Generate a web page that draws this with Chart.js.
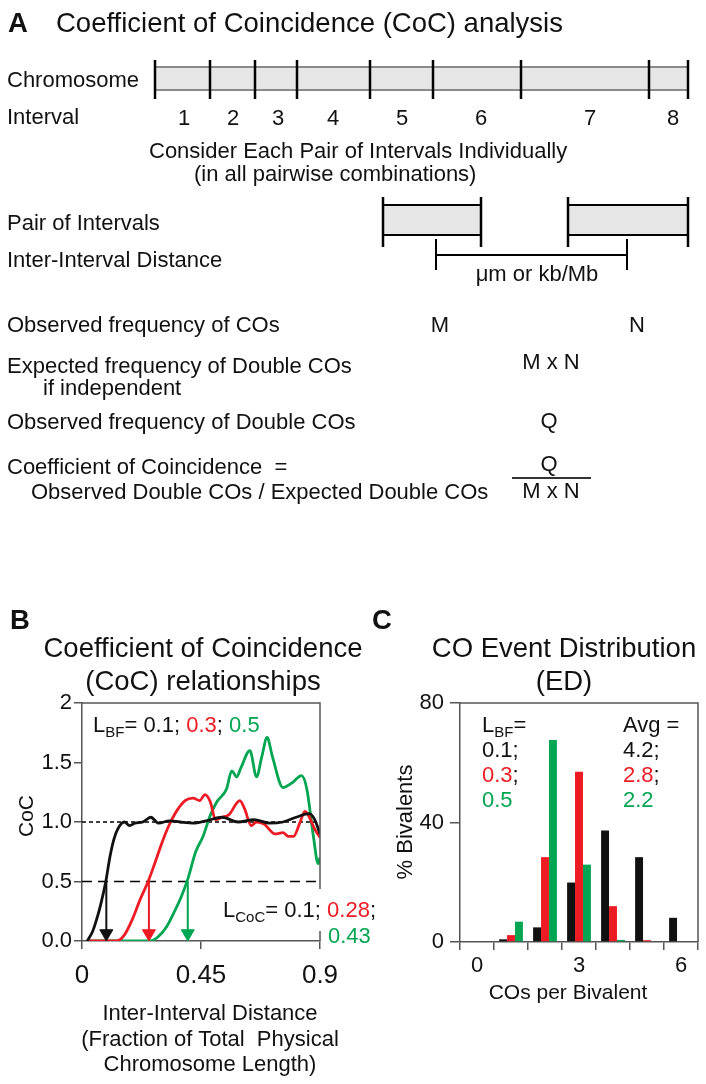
<!DOCTYPE html>
<html>
<head>
<meta charset="utf-8">
<title>Coefficient of Coincidence and CO event distribution</title>
<script src="https://cdn.jsdelivr.net/npm/chart.js@4.4.1/dist/chart.umd.min.js"></script>
<style>
  html, body { margin: 0; padding: 0; background: #fff; }
  #page { position: relative; width: 706px; height: 1084px; overflow: hidden; background: #fff; }
  #page canvas { position: absolute; }
  #overlay { position: absolute; left: 0; top: 0; pointer-events: none; }
  #overlay text { font-family: 'Liberation Sans', Arial, sans-serif; fill: #111; }
</style>
</head>
<body>
<div id="page">
  <canvas id="cocChart" width="365" height="320" style="left:0;top:680px;width:365px;height:320px"></canvas>
  <canvas id="edChart" width="336" height="320" style="left:370px;top:680px;width:336px;height:320px"></canvas>

  <svg id="overlay" width="706" height="1084" xmlns="http://www.w3.org/2000/svg">
    <!-- panel A: the diagram -->
    <text x="8" y="32" font-size="27.5" font-weight="bold">A</text>
    <text x="56" y="32" font-size="27.5">Coefficient of Coincidence (CoC) analysis</text>

    <g font-size="22">
      <text x="7" y="87">Chromosome</text>
      <text x="7" y="124">Interval</text>
    </g>
    <rect x="155" y="67" width="533" height="23" fill="#e6e6e6"/>
    <g stroke="#8a8a8a" stroke-width="2">
      <line x1="155" y1="67" x2="688" y2="67"/>
      <line x1="155" y1="90" x2="688" y2="90"/>
    </g>
    <g stroke="#000" stroke-width="2.5">
      <line x1="155" y1="60" x2="155" y2="99"/>
      <line x1="210" y1="60" x2="210" y2="99"/>
      <line x1="255" y1="60" x2="255" y2="99"/>
      <line x1="297" y1="60" x2="297" y2="99"/>
      <line x1="370" y1="60" x2="370" y2="99"/>
      <line x1="433" y1="60" x2="433" y2="99"/>
      <line x1="521" y1="60" x2="521" y2="99"/>
      <line x1="649" y1="60" x2="649" y2="99"/>
      <line x1="688" y1="60" x2="688" y2="99"/>
    </g>
    <g font-size="22" text-anchor="middle">
      <text x="184" y="125">1</text>
      <text x="233" y="125">2</text>
      <text x="278" y="125">3</text>
      <text x="333" y="125">4</text>
      <text x="402" y="125">5</text>
      <text x="481" y="125">6</text>
      <text x="590" y="125">7</text>
      <text x="673" y="125">8</text>
    </g>

    <g font-size="22">
      <text x="149" y="158">Consider Each Pair of Intervals Individually</text>
      <text x="194" y="181">(in all pairwise combinations)</text>
      <text x="7" y="230">Pair of Intervals</text>
      <text x="7" y="267">Inter-Interval Distance</text>
      <text x="537" y="281" text-anchor="middle">μm or kb/Mb</text>
    </g>
    <rect x="383" y="205" width="98" height="30" fill="#e6e6e6"/>
    <rect x="568" y="205" width="120" height="30" fill="#e6e6e6"/>
    <g stroke="#000" stroke-width="2">
      <line x1="383" y1="205" x2="481" y2="205"/>
      <line x1="383" y1="235" x2="481" y2="235"/>
      <line x1="568" y1="205" x2="688" y2="205"/>
      <line x1="568" y1="235" x2="688" y2="235"/>
      <line x1="436" y1="255" x2="627" y2="255"/>
      <line x1="436" y1="239" x2="436" y2="270"/>
      <line x1="627" y1="239" x2="627" y2="270"/>
    </g>
    <g stroke="#000" stroke-width="2.5">
      <line x1="383" y1="197" x2="383" y2="247"/>
      <line x1="481" y1="197" x2="481" y2="247"/>
      <line x1="568" y1="197" x2="568" y2="247"/>
      <line x1="688" y1="197" x2="688" y2="247"/>
    </g>

    <g font-size="22">
      <text x="7" y="332">Observed frequency of COs</text>
      <text x="440" y="332" text-anchor="middle">M</text>
      <text x="637" y="332" text-anchor="middle">N</text>
      <text x="7" y="373">Expected frequency of Double COs</text>
      <text x="43" y="395">if independent</text>
      <text x="551" y="369" text-anchor="middle">M x N</text>
      <text x="7" y="429">Observed frequency of Double COs</text>
      <text x="549" y="428" text-anchor="middle">Q</text>
      <text x="7" y="474">Coefficient of Coincidence&#160; =</text>
      <text x="31" y="499">Observed Double COs / Expected Double COs</text>
      <text x="549" y="471" text-anchor="middle">Q</text>
      <text x="551" y="498" text-anchor="middle">M x N</text>
    </g>
    <line x1="512" y1="478" x2="591" y2="478" stroke="#333" stroke-width="2"/>

    <!-- panel B texts -->
    <text x="10" y="629" font-size="27.5" font-weight="bold">B</text>
    <g font-size="27.5" text-anchor="middle">
      <text x="203" y="657">Coefficient of Coincidence</text>
      <text x="203" y="690">(CoC) relationships</text>
    </g>
    <text x="93" y="732" font-size="22">L<tspan font-size="15" dy="5">BF</tspan><tspan dy="-5">= 0.1; </tspan><tspan style="fill:#ed1c24">0.3</tspan>; <tspan style="fill:#00a651">0.5</tspan></text>
    <rect x="224" y="889" width="140" height="42" fill="#fff"/>
    <text x="223" y="917" font-size="22">L<tspan font-size="15" dy="5">CoC</tspan><tspan dy="-5">= 0.1; </tspan><tspan style="fill:#ed1c24">0.28</tspan>;</text>
    <text x="328" y="943" font-size="22" style="fill:#00a651">0.43</text>
    <text transform="translate(33,816) rotate(-90)" text-anchor="middle" font-size="21">CoC</text>
    <g font-size="22" text-anchor="middle">
      <text x="210" y="1020">Inter-Interval Distance</text>
      <text x="210" y="1046">(Fraction of Total&#160; Physical</text>
      <text x="210" y="1071">Chromosome Length)</text>
    </g>

    <!-- panel C texts -->
    <text x="372" y="629" font-size="27.5" font-weight="bold">C</text>
    <g font-size="27.5" text-anchor="middle">
      <text x="564" y="657">CO Event Distribution</text>
      <text x="564" y="690">(ED)</text>
    </g>
    <g font-size="22">
      <text x="482" y="732">L<tspan font-size="15" dy="5">BF</tspan><tspan dy="-5">=</tspan></text>
      <text x="482" y="757">0.1;</text>
      <text x="482" y="782"><tspan style="fill:#ed1c24">0.3</tspan>;</text>
      <text x="482" y="807" style="fill:#00a651">0.5</text>
      <text x="623" y="732">Avg =</text>
      <text x="623" y="757">4.2;</text>
      <text x="623" y="782"><tspan style="fill:#ed1c24">2.8</tspan>;</text>
      <text x="623" y="807" style="fill:#00a651">2.2</text>
    </g>
    <text transform="translate(412,822) rotate(-90)" text-anchor="middle" font-size="22">% Bivalents</text>
    <text x="568" y="999" text-anchor="middle" font-size="21">COs per Bivalent</text>
  </svg>
</div>

<script>
// ---- panel B data: CoC vs inter-interval distance, one curve per L_BF ----
const cocXTicks = [0, 0.45, 0.9];
const cocXLabels = ['0', '0.45', '0.9'];
const cocYTicks = [0, 0.5, 1, 1.5, 2];
const cocYLabels = ['0.0', '0.5', '1.0', '1.5', '2'];

// L_BF = 0.1 (black)
const bf01X = [0.02, 0.04, 0.055, 0.07, 0.09, 0.105, 0.12, 0.135, 0.16, 0.18, 0.2, 0.23, 0.26, 0.29,
               0.33, 0.37, 0.42, 0.47, 0.53, 0.59, 0.65, 0.71, 0.76, 0.81, 0.86, 0.88, 0.9];
const bf01Y = [0, 0.08, 0.18, 0.3, 0.5, 0.7, 0.85, 0.94, 1.0, 0.97, 0.99, 1.0, 1.04, 0.99,
               1.01, 1.0, 0.99, 1.01, 1.04, 1.0, 1.02, 0.99, 1.0, 1.04, 1.07, 1.02, 0.9];
// L_BF = 0.3 (red)
const bf03X = [0.02, 0.13, 0.16, 0.19, 0.22, 0.25, 0.27, 0.295, 0.315, 0.335, 0.36, 0.39, 0.42, 0.445,
               0.465, 0.485, 0.505, 0.53, 0.555, 0.597, 0.615, 0.64, 0.66, 0.69, 0.73, 0.76, 0.78,
               0.80, 0.825, 0.843, 0.86, 0.88, 0.9];
const bf03Y = [0, 0, 0.05, 0.18, 0.35, 0.5, 0.62, 0.78, 0.9, 1.0, 1.1, 1.18, 1.2, 1.18,
               1.23, 1.17, 1.02, 1.04, 1.06, 1.18, 1.11, 0.97, 1.0, 0.98, 0.9, 0.91, 0.88,
               0.88, 1.0, 1.09, 1.04, 0.94, 0.87];
// L_BF = 0.5 (green)
const bf05X = [0.02, 0.26, 0.29, 0.32, 0.35, 0.375, 0.40, 0.43, 0.458, 0.484, 0.51, 0.547, 0.566, 0.585,
               0.60, 0.635, 0.66, 0.68, 0.70, 0.72, 0.76, 0.795, 0.83, 0.85, 0.875, 0.893, 0.9];
const bf05Y = [0, 0, 0.04, 0.12, 0.25, 0.37, 0.52, 0.75, 0.88, 1.05, 1.17, 1.28, 1.43, 1.38,
               1.45, 1.6, 1.38, 1.55, 1.71, 1.55, 1.29, 1.33, 1.39, 1.28, 0.88, 0.65, 0.7];

// where each curve crosses CoC = 0.5 (arrows), and the dashed reference levels
const lcocX = [0.092, 0.253, 0.40];
const refLevels = [1.0, 0.5];

// ---- panel C data: % bivalents by number of COs ----
const coCounts = ['0', '1', '2', '3', '4', '5', '6'];
const coShown = ['0', '3', '6'];
const edBF01 = [0, 0.9, 4.9, 19.9, 37.3, 28.4, 8.1];
const edBF03 = [0, 2.3, 28.4, 57.0, 12.0, 0.6, 0];
const edBF05 = [0, 6.8, 67.6, 25.9, 0.7, 0, 0];
const edYTicks = [0, 40, 80];

const BLACK = '#111111';
const RED = '#ed1c24';
const GREEN = '#00a651';
const AXIS = '#555555';
const FONT = "'Liberation Sans', Arial, sans-serif";

Chart.defaults.font.family = FONT;
Chart.defaults.color = '#111';

// draws the top and right sides of the plot box
const framePlugin = {
  id: 'frame',
  afterDatasetsDraw(chart) {
    const { ctx, chartArea: a } = chart;
    ctx.save();
    ctx.strokeStyle = AXIS;
    ctx.lineWidth = 1.5;
    ctx.beginPath();
    ctx.moveTo(a.left, a.top);
    ctx.lineTo(a.right, a.top);
    ctx.lineTo(a.right, a.bottom);
    ctx.stroke();
    ctx.restore();
  }
};

function pairs(xs, ys) {
  return xs.map((x, i) => ({ x: x, y: ys[i] }));
}

function curve(xs, ys, color) {
  return {
    data: pairs(xs, ys),
    borderColor: color,
    borderWidth: 2.8,
    pointRadius: 0,
    cubicInterpolationMode: 'monotone'
  };
}

function arrow(x, color) {
  return {
    data: [{ x: x, y: 0.5 }, { x: x, y: 0.063 }],
    borderColor: color,
    borderWidth: 2,
    pointRadius: [0, 7.5],
    pointStyle: 'triangle',
    pointRotation: 180,
    pointBackgroundColor: color,
    pointBorderColor: color,
    pointBorderWidth: 1
  };
}

function refLine(level, dash) {
  return {
    data: [{ x: 0, y: level }, { x: 0.9, y: level }],
    borderColor: '#000',
    borderWidth: 1.4,
    borderDash: dash,
    pointRadius: 0
  };
}

// ---- Chart B ----
new Chart(document.getElementById('cocChart').getContext('2d'), {
  type: 'line',
  data: {
    datasets: [
      arrow(lcocX[0], BLACK),
      arrow(lcocX[1], RED),
      arrow(lcocX[2], GREEN),
      curve(bf01X, bf01Y, BLACK),
      curve(bf03X, bf03Y, RED),
      curve(bf05X, bf05Y, GREEN),
      refLine(refLevels[0], [4, 3]),
      refLine(refLevels[1], [10, 6])
    ]
  },
  options: {
    responsive: false,
    animation: false,
    devicePixelRatio: 1,
    layout: { padding: { top: 23, right: 45, left: 0, bottom: 0 } },
    plugins: { legend: { display: false }, tooltip: { enabled: false } },
    scales: {
      x: {
        type: 'linear',
        min: 0,
        max: 0.9,
        afterBuildTicks: s => { s.ticks = cocXTicks.map(v => ({ value: v })); },
        afterFit: s => { s.height = 59; },
        grid: { drawOnChartArea: false, tickLength: 8, color: AXIS, lineWidth: 1.5 },
        border: { color: AXIS, width: 1.5 },
        ticks: {
          font: { size: 26 },
          padding: 11,
          maxRotation: 0,
          callback: v => cocXLabels[cocXTicks.indexOf(v)]
        }
      },
      y: {
        min: 0,
        max: 2,
        afterBuildTicks: s => { s.ticks = cocYTicks.map(v => ({ value: v })); },
        afterFit: s => { s.width = 82; },
        grid: { drawOnChartArea: false, tickLength: 8, color: AXIS, lineWidth: 1.5 },
        border: { color: AXIS, width: 1.5 },
        ticks: {
          font: { size: 22 },
          padding: 2,
          callback: v => cocYLabels[cocYTicks.indexOf(v)]
        }
      }
    }
  },
  plugins: [framePlugin]
});

// ---- Chart C ----
function bars(values, color) {
  return {
    data: values,
    backgroundColor: color,
    borderWidth: 0,
    categoryPercentage: 0.7,
    barPercentage: 1.0
  };
}

new Chart(document.getElementById('edChart').getContext('2d'), {
  type: 'bar',
  data: {
    labels: coCounts,
    datasets: [bars(edBF01, BLACK), bars(edBF03, RED), bars(edBF05, GREEN)]
  },
  options: {
    responsive: false,
    animation: false,
    devicePixelRatio: 1,
    layout: { padding: { top: 23, right: 8, left: 0, bottom: 0 } },
    plugins: { legend: { display: false }, tooltip: { enabled: false } },
    scales: {
      x: {
        afterFit: s => { s.height = 58; },
        grid: { offset: true, drawOnChartArea: false, tickLength: 8, color: AXIS, lineWidth: 1.5 },
        border: { color: AXIS, width: 1.5 },
        ticks: {
          font: { size: 22 },
          padding: 3,
          autoSkip: false,
          maxRotation: 0,
          callback: (v, i) => coShown.includes(coCounts[i]) ? coCounts[i] : ''
        }
      },
      y: {
        min: 0,
        max: 80,
        afterBuildTicks: s => { s.ticks = edYTicks.map(v => ({ value: v })); },
        afterFit: s => { s.width = 90; },
        grid: { drawOnChartArea: false, tickLength: 10, color: AXIS, lineWidth: 1.5 },
        border: { color: AXIS, width: 1.5 },
        ticks: { font: { size: 22 }, padding: 6 }
      }
    }
  },
  plugins: [framePlugin]
});
</script>
</body>
</html>
